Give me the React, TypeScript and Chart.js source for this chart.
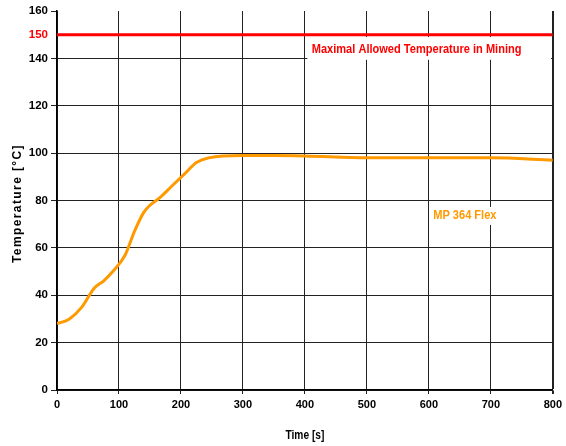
import React, { useEffect, useRef } from "react";
import { Chart, registerables } from "chart.js";

Chart.register(...registerables);

// ---- data ----
const timeS = [0, 20, 40, 60, 75, 90, 110, 125, 140, 150, 165, 185, 205, 225, 245, 300, 350, 400, 500, 600, 700, 800];
const tempC = [28, 30, 35, 43, 46, 50, 57, 67, 75, 78, 81, 86, 91, 96, 98, 99, 99, 98.8, 98, 98, 98, 97];
const limitTime = [0, 800];
const limitTemp = [150, 150];
const yTickValues = [0, 20, 40, 60, 80, 100, 120, 140, 150, 160];
const seriesName = "MP 364 Flex";
const limitName = "Maximal Allowed Temperature in Mining";
const xTitle = "Time [s]";
const yTitle = "Temperature [°C]";

const FONT = "'Liberation Sans', Arial, sans-serif";
const ORANGE = "#ff9900";
const RED = "#ff0000";
const SQUEEZE = 0.85;

function narrowText(ctx: any, text: string, x: number, y: number, align: "left" | "center") {
  ctx.save();
  ctx.translate(x, y);
  ctx.scale(SQUEEZE, 1);
  ctx.textAlign = align;
  ctx.textBaseline = "middle";
  ctx.fillText(text, 0, 0);
  ctx.restore();
}

const labelPlugin = {
  id: "labels",
  afterDatasetsDraw(chart: any) {
    const { ctx, scales } = chart;
    const xs = scales.x;
    const ys = scales.y;
    ctx.save();
    // limit label box
    const x1 = xs.getPixelForValue(404);
    const x2 = xs.getPixelForValue(797);
    const y1 = ys.getPixelForValue(149);
    const y2 = ys.getPixelForValue(139.4);
    ctx.fillStyle = "#ffffff";
    ctx.fillRect(x1, y1, x2 - x1, y2 - y1);
    ctx.font = `bold 13px ${FONT}`;
    ctx.fillStyle = RED;
    narrowText(ctx, limitName, xs.getPixelForValue(411), ys.getPixelForValue(143.6), "left");

    // series label box
    const tx = xs.getPixelForValue(607);
    const ty = ys.getPixelForValue(73.5);
    const w = ctx.measureText(seriesName).width * SQUEEZE;
    ctx.fillStyle = "#ffffff";
    ctx.fillRect(tx - 3, ty - 9, w + 6, 18);
    ctx.fillStyle = ORANGE;
    narrowText(ctx, seriesName, tx, ty, "left");

    // x axis title
    ctx.font = `bold 12px ${FONT}`;
    ctx.fillStyle = "#000000";
    narrowText(ctx, xTitle, (chart.chartArea.left + chart.chartArea.right) / 2, 436, "center");

    // y axis title with letter spacing
    const cy = (chart.chartArea.top + chart.chartArea.bottom) / 2 + 3;
    ctx.translate(18, cy);
    ctx.rotate(-Math.PI / 2);
    ctx.font = `bold 12px ${FONT}`;
    (ctx as any).letterSpacing = "1.4px";
    ctx.fillStyle = "#000000";
    ctx.textAlign = "center";
    ctx.textBaseline = "middle";
    ctx.fillText(yTitle, 0, 0);
    ctx.restore();
  },
};

export default function App() {
  const ref = useRef<HTMLCanvasElement | null>(null);
  useEffect(() => {
    document.body.style.margin = "0";
    const chart = new Chart(ref.current as HTMLCanvasElement, {
      type: "line",
      data: {
        datasets: [
          {
            label: seriesName,
            data: timeS.map((t, i) => ({ x: t, y: tempC[i] })),
            borderColor: ORANGE,
            borderWidth: 3,
            pointRadius: 0,
            cubicInterpolationMode: "monotone",
            fill: false,
          },
          {
            label: limitName,
            data: limitTime.map((t, i) => ({ x: t, y: limitTemp[i] })),
            borderColor: RED,
            borderWidth: 3,
            pointRadius: 0,
            fill: false,
          },
        ],
      },
      options: {
        responsive: false,
        animation: false,
        layout: { padding: { top: 11, right: 13, left: 0, bottom: 0 } },
        plugins: { legend: { display: false }, tooltip: { enabled: false } },
        scales: {
          x: {
            type: "linear",
            min: 0,
            max: 800,
            afterFit(scale: any) {
              scale.height = 56;
            },
            ticks: {
              stepSize: 100,
              color: "#000",
              padding: 4,
              font: { family: FONT, weight: "bold", size: 11 },
            },
            grid: {
              color: "#222",
              lineWidth: (c: any) => (c.tick && c.tick.value === 800 ? 2 : 1),
              tickLength: 4,
            },
            border: { color: "#000", width: 1.5 },
            title: { display: false },
          },
          y: {
            type: "linear",
            min: 0,
            max: 160,
            afterFit(scale: any) {
              scale.width = 57;
            },
            afterBuildTicks(scale: any) {
              scale.ticks = yTickValues.map((v) => ({ value: v }));
            },
            ticks: {
              color: (c: any) => (c.tick && c.tick.value === 150 ? RED : "#000"),
              padding: 3,
              font: { family: FONT, weight: "bold", size: 11.5 },
            },
            grid: {
              color: (c: any) =>
                c.tick && (c.tick.value === 160 || c.tick.value === 150) ? "rgba(0,0,0,0)" : "#222",
              tickColor: (c: any) => (c.tick && c.tick.value === 150 ? "rgba(0,0,0,0)" : "#222"),
              tickLength: 6,
            },
            border: { color: "#000", width: 1.5 },
          },
        },
      },
      plugins: [labelPlugin],
    } as any);
    return () => chart.destroy();
  }, []);
  return (
    <div style={{ position: "absolute", left: 0, top: 0, width: 566, height: 446 }}>
      <canvas ref={ref} width={566} height={446} style={{ width: 566, height: 446 }} />
    </div>
  );
}
